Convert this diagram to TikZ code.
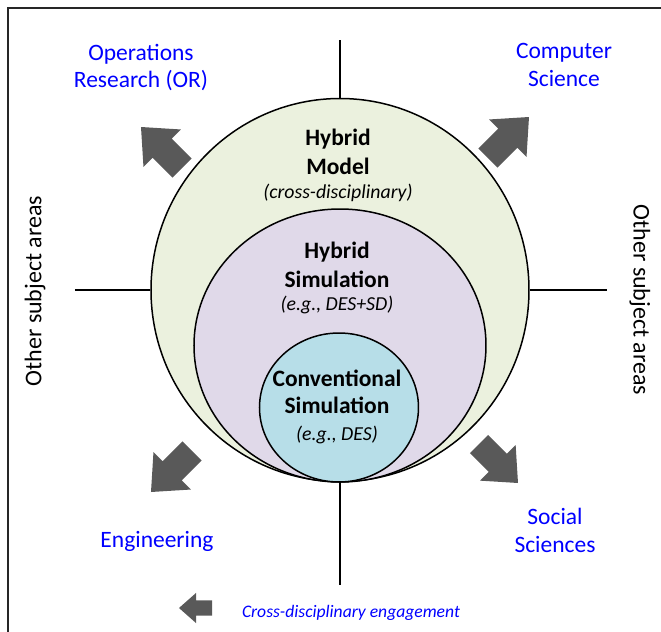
\documentclass[tikz,border=0pt]{standalone}
\usepackage{fontspec}
\setmainfont{Carlito}
\usetikzlibrary{shapes.geometric}
\definecolor{outerfill}{HTML}{EBF1DE}
\definecolor{midfill}{HTML}{E0D9E9}
\definecolor{innerfill}{HTML}{B7DEE8}
\definecolor{arrowgray}{HTML}{595959}
\definecolor{labelblue}{HTML}{0000FF}
\newcommand\blockarr[4]{%
  \fill[arrowgray, shift={(#1)}, rotate=#2, scale=#3] (0pt,0pt) -- (-15pt,13.25pt) -- (-15pt,6.75pt) -- (-29pt,6.75pt) -- (-29pt,-6.75pt) -- (-15pt,-6.75pt) -- (-15pt,-13.25pt) -- cycle;}
\begin{document}
\begin{tikzpicture}[x=0.5pt,y=-0.5pt,
  ring/.style={ellipse, draw=black, line width=0.75pt, inner sep=0pt},
  axisline/.style={line width=0.55pt},
  area/.style={text=labelblue, font=\fontsize{11.75}{14}\selectfont, anchor=base},
  bigtxt/.style={font=\fontsize{11.75}{14}\selectfont\bfseries, anchor=base},
  smalltxt/.style={font=\fontsize{9.9}{11}\selectfont\itshape, anchor=base},
  side/.style={font=\fontsize{12}{14}\selectfont}]
\useasboundingbox (0,0) rectangle (661,632);
% frame
\draw[line width=0.7pt, draw=black!85] (661,8) -- (8,8) -- (8,632);
% circles
\node[ring, fill=outerfill, minimum width=189pt, minimum height=191.5pt] (outer) at (340,290) {};
\node[ring, fill=midfill, minimum width=146pt, minimum height=136.5pt] (mid) at (340,345.5) {};
\node[ring, fill=innerfill, minimum width=79.5pt, minimum height=74.5pt] (inner) at (339,407.5) {};
% axes
\coordinate (ttop) at (340,40);
\coordinate (tbot) at (340,585);
\coordinate (tleft) at (75,290);
\coordinate (tright) at (607,290);
\draw[axisline] (ttop) -- (outer.north);
\draw[axisline] (outer.south) -- (tbot);
\draw[axisline] (tleft) -- (outer.west);
\draw[axisline] (outer.east) -- (tright);
% circle texts
\node[bigtxt] (hm1) at (338,145) {Hybrid};
\node[bigtxt] (hm2) at (338,174) {Model};
\node[smalltxt] (hm3) at (338,198) {(cross-disciplinary)};
\node[bigtxt] (hs1) at (337,258) {Hybrid};
\node[bigtxt] (hs2) at (337,287) {Simulation};
\node[smalltxt] (hs3) at (337,310) {(e.g., DES+SD)};
\node[bigtxt] (cs1) at (337,386) {Conventional};
\node[bigtxt] (cs2) at (337,413) {Simulation};
\node[smalltxt] (cs3) at (337,440) {(e.g., DES)};
% subject areas
\node[area] (or1) at (141,60) {Operations};
\node[area] (or2) at (141,87) {Research (OR)};
\node[area] (cs1l) at (564,58) {Computer};
\node[area] (cs2l) at (564,86) {Science};
\node[area] (eng) at (157,547) {Engineering};
\node[area] (ss1) at (555,524) {Social};
\node[area] (ss2) at (555,552) {Sciences};
\node[side, rotate=90] (osl) at (35,291) {Other subject areas};
\node[side, rotate=-90] (osr) at (640,300) {Other subject areas};
% arrows
\blockarr{141,127}{135}{1}{}
\blockarr{529,117}{45}{1}{}
\blockarr{151,492}{225}{1}{}
\blockarr{518,483}{-45}{0.95}{}
\blockarr{179,608}{180}{0.57}{}
\node[text=labelblue, font=\fontsize{8.8}{10}\selectfont\itshape, anchor=base] (leg) at (351,617) {Cross-disciplinary engagement};
\end{tikzpicture}
\end{document}
